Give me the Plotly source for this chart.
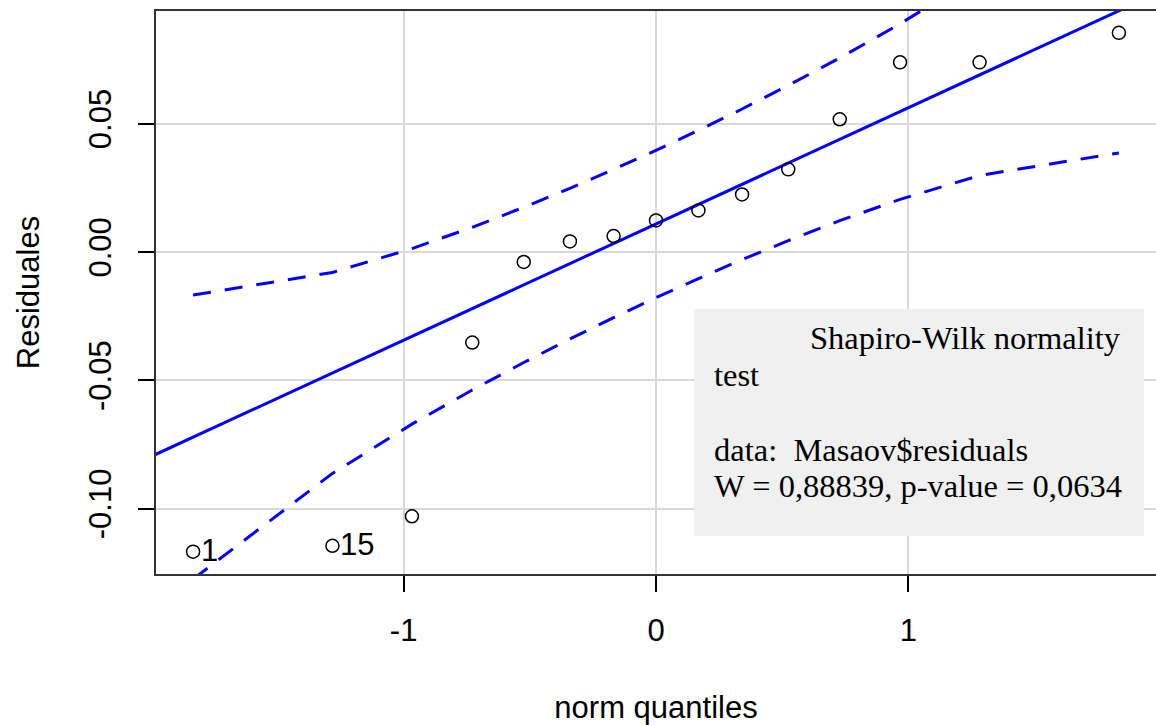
import plotly.graph_objects as go

# ---- data ----
norm_quantiles = [-1.834, -1.282, -0.967, -0.728, -0.524, -0.341, -0.168, 0.0,
                  0.168, 0.341, 0.524, 0.728, 0.967, 1.282, 1.834]
residuals = [-0.1168, -0.1145, -0.1030, -0.0353, -0.0039, 0.0041, 0.0062, 0.0123,
             0.0162, 0.0224, 0.0322, 0.0517, 0.0739, 0.0739, 0.0854]
envelope_upper = [-0.0168, -0.0080, 0.0013, 0.0096, 0.0174, 0.0248, 0.0322, 0.0396,
                  0.0474, 0.0557, 0.0649, 0.0756, 0.0889, 0.1081, 0.1493]
envelope_lower = [-0.1275, -0.0863, -0.0671, -0.0538, -0.0431, -0.0339, -0.0256, -0.0178,
                  -0.0104, -0.0030, 0.0044, 0.0122, 0.0205, 0.0298, 0.0386]
ref_line_x = [-2.0, 2.0]
ref_line_y = [-0.0797, 0.1015]
point_labels = {0: "1", 1: "15"}
x_ticks = [-1, 0, 1]
y_ticks = [-0.10, -0.05, 0.00, 0.05]
y_tick_text = ["-0.10", "-0.05", "0.00", "0.05"]
test_lines = ["Shapiro-Wilk normality", "test", "data:\u00a0\u00a0Masaov$residuals",
              "W = 0,88839, p-value = 0,0634"]

W, H = 1156, 725
L, R, T, B = 156, 0, 11, 151
PW, PH = W - L - R, H - T - B


def px_x(p):
    return (p - L) / PW


def px_y(p):
    return (H - B - p) / PH


BLUE = "#0000ff"
fig = go.Figure()
fig.add_trace(go.Scatter(x=norm_quantiles, y=envelope_upper, mode="lines",
                         line=dict(color=BLUE, width=3, dash="18px,14px"),
                         hoverinfo="skip", showlegend=False))
fig.add_trace(go.Scatter(x=norm_quantiles, y=envelope_lower, mode="lines",
                         line=dict(color=BLUE, width=3, dash="18px,14px"),
                         hoverinfo="skip", showlegend=False))
fig.add_trace(go.Scatter(x=ref_line_x, y=ref_line_y, mode="lines",
                         line=dict(color=BLUE, width=3),
                         hoverinfo="skip", showlegend=False))
fig.add_trace(go.Scatter(x=norm_quantiles, y=residuals, mode="markers",
                         marker=dict(symbol="circle-open", size=13, color="black",
                                     line=dict(width=1.5, color="black")),
                         showlegend=False))

for idx, lab in point_labels.items():
    fig.add_annotation(x=norm_quantiles[idx], y=residuals[idx], text=lab,
                       showarrow=False, xanchor="left", yanchor="middle", xshift=6, yshift=1,
                       font=dict(family="Liberation Sans, Arial", size=31, color="black"))

# Shapiro-Wilk test box
fig.add_shape(type="rect", xref="paper", yref="paper",
              x0=px_x(694), x1=px_x(1144), y0=px_y(536), y1=px_y(309),
              fillcolor="#f0f0f0", line=dict(width=0), layer="above")
line_pos = [(808, 338), (712, 375), (712, 450), (712, 486)]
for txt, (lx, ly) in zip(test_lines, line_pos):
    fig.add_annotation(xref="paper", yref="paper", x=px_x(lx), y=px_y(ly), text=txt,
                       showarrow=False, xanchor="left", yanchor="middle",
                       font=dict(family="Liberation Serif, Times New Roman", size=32.5,
                                 color="black"))

axis_font = dict(family="Liberation Sans, Arial", size=31, color="black")
fig.update_layout(
    width=W, height=H,
    margin=dict(l=L, r=R, t=T, b=B),
    paper_bgcolor="white", plot_bgcolor="white",
    showlegend=False,
    xaxis=dict(range=[-1.981, 1.981], tickvals=x_ticks, ticktext=[str(v) for v in x_ticks],
               showgrid=True, gridcolor="#d9d9d9", gridwidth=2, zeroline=False,
               showline=True, linecolor="#333333", linewidth=2, mirror=True,
               ticks="outside", ticklen=16, tickwidth=1.5, tickcolor="black",
               tickfont=axis_font, ticklabelstandoff=12,
               title=dict(text="norm quantiles", font=axis_font, standoff=52)),
    yaxis=dict(range=[-0.1255, 0.0939], tickvals=y_ticks, ticktext=y_tick_text,
               tickangle=-90,
               showgrid=True, gridcolor="#d9d9d9", gridwidth=2, zeroline=False,
               showline=True, linecolor="#333333", linewidth=2, mirror=False,
               ticks="outside", ticklen=16, tickwidth=1.5, tickcolor="black",
               tickfont=axis_font, ticklabelstandoff=15,
               title=dict(text="Residuales", font=axis_font, standoff=34)),
)

fig.write_html("out.html", config={"displayModeBar": False},
               post_script=("document.documentElement.style.overflow='hidden';"
                            "document.body.style.margin='0';"
                            "document.body.style.overflow='hidden';"))
